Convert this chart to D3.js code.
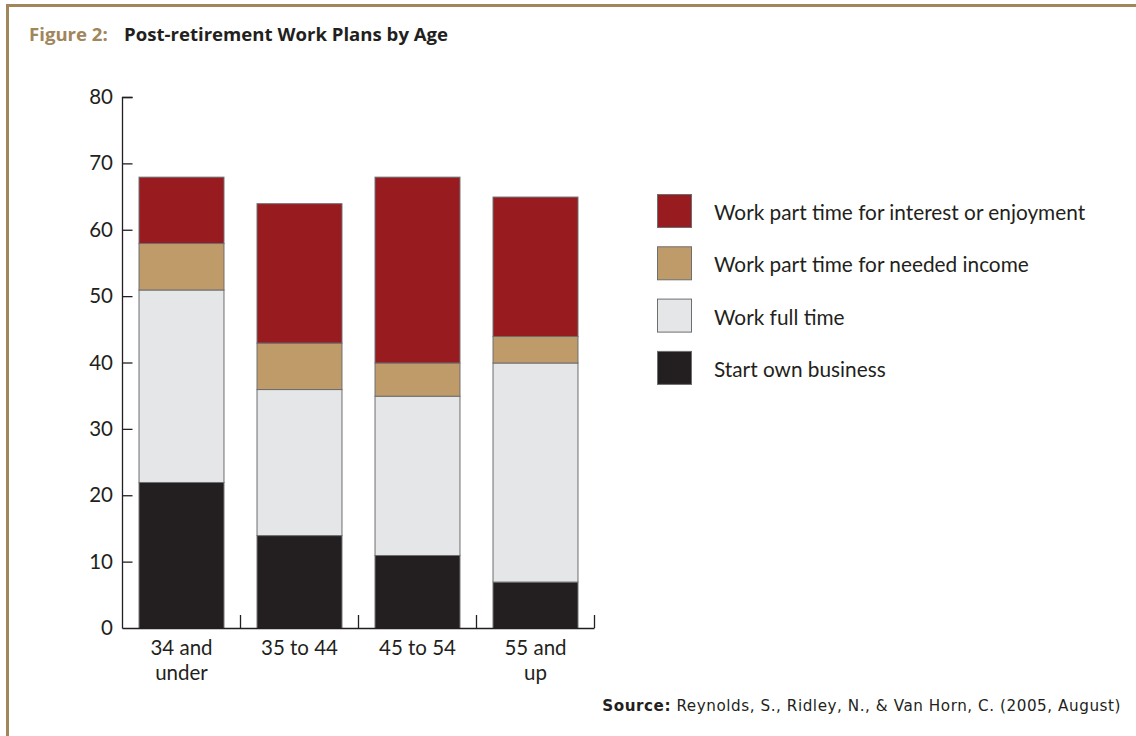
<!DOCTYPE html>
<html><head><meta charset="utf-8">
<script src="https://cdn.jsdelivr.net/npm/d3@7/dist/d3.min.js"></script>
<style>body{margin:0;background:#fff;} svg{display:block;}</style>
</head><body>
<svg id="c" width="1136" height="736"></svg>
<script>
const categories = [["34 and","under"],["35 to 44"],["45 to 54"],["55 and","up"]];
const seriesNames = ["Start own business","Work full time","Work part time for needed income","Work part time for interest or enjoyment"];
const startOwnBusiness = [22,14,11,7];
const workFullTime = [29,22,24,33];
const partTimeIncome = [7,7,5,4];
const partTimeInterest = [10,21,28,21];
const yTicks = [0,10,20,30,40,50,60,70,80];
const colors = ["#231f20","#e5e6e8","#c09b6a","#981b20"];
const seriesValues = [startOwnBusiness, workFullTime, partTimeIncome, partTimeInterest];

const svg = d3.select("#c");
const font = "Lato, 'Open Sans', sans-serif";

// frame
svg.append("rect").attr("x",0).attr("y",0).attr("width",1136).attr("height",736).attr("fill","#fff");
svg.append("line").attr("x1",6.5).attr("x2",1136).attr("y1",5.5).attr("y2",5.5).attr("stroke","#a0865a").attr("stroke-width",3);
svg.append("line").attr("x1",7.5).attr("x2",7.5).attr("y1",4).attr("y2",736).attr("stroke","#a0865a").attr("stroke-width",3);

// title
const t = svg.append("text").attr("x",29).attr("y",41).attr("font-family","'Open Sans', sans-serif").attr("font-weight","bold").attr("font-size",18.6);
t.append("tspan").attr("fill","#a0865a").text("Figure 2:");
t.append("tspan").attr("fill","#231f20").attr("x",124).text("Post-retirement Work Plans by Age");

const x = d3.scaleBand().domain(d3.range(categories.length)).range([122,594]).paddingInner(0.28).paddingOuter(0.14);
const y = d3.scaleLinear().domain([0,80]).range([628,97]);

const rows = d3.range(categories.length).map(i => {
  const o = {i};
  seriesNames.forEach((s,k) => o[s] = seriesValues[k][i]);
  return o;
});
const stack = d3.stack().keys(seriesNames)(rows);

const g = svg.append("g");
stack.forEach((layer,k) => {
  g.selectAll(null).data(layer).enter().append("rect")
    .attr("x", d => x(d.data.i)+0.5)
    .attr("width", x.bandwidth())
    .attr("y", d => y(d[1])+0.5)
    .attr("height", d => y(d[0]) - y(d[1]))
    .attr("fill", colors[k])
    .attr("stroke", "#6d6e70").attr("stroke-width",1);
});

// y axis
const ya = svg.append("g").attr("transform","translate(122.5,0)")
  .call(d3.axisRight(y).tickValues(yTicks).tickSize(10).tickFormat(""));
ya.select(".domain").attr("d", "M10," + (y(80)+0.5) + "H0V" + (y(0)+0.5));
ya.selectAll(".tick line").attr("stroke","#231f20").attr("stroke-width",1.3);
ya.select(".domain").attr("stroke","#231f20").attr("stroke-width",1.3);
ya.selectAll(".tick").filter(d=>d===0).select("line").remove();
svg.append("g").selectAll("text").data(yTicks).enter().append("text")
  .attr("x",113).attr("y",d=>y(d)+7).attr("text-anchor","end")
  .attr("font-family",font).attr("font-size",20.5).attr("fill","#231f20").text(d=>d);

// x axis
const xa = svg.append("g");
const x0 = x.range()[0], x1 = x.range()[1];
xa.append("path").attr("d", `M${x0+0.5},${y(0)+0.5}H${x1+0.5}`).attr("stroke","#231f20").attr("stroke-width",1.3).attr("fill","none");
const tickPos = d3.range(1,categories.length+1).map(i => i < categories.length ? (x(i-1)+x.bandwidth() + x(i))/2 : x1);
xa.selectAll("line").data(tickPos).enter().append("line")
  .attr("x1",d=>d+0.5).attr("x2",d=>d+0.5).attr("y1",y(0)).attr("y2",y(0)-13)
  .attr("stroke","#231f20").attr("stroke-width",1.3);

const xl = svg.append("g").selectAll("text").data(categories).enter().append("text")
  .attr("x",(d,i)=>x(i)+x.bandwidth()/2+0.5).attr("y",655)
  .attr("text-anchor","middle").attr("font-family",font).attr("font-size",20.5).attr("fill","#231f20");
xl.each(function(d){
  const s = d3.select(this);
  d.forEach((line,j)=> s.append("tspan").attr("x",s.attr("x")).attr("dy", j===0?0:25).text(line));
});

// legend
const legendOrder = [3,2,1,0];
const lg = svg.append("g");
legendOrder.forEach((k,j) => {
  const yy = 194 + j*52.3;
  lg.append("rect").attr("x",657.5).attr("y",yy+0.5).attr("width",34).attr("height",33)
    .attr("fill",colors[k]).attr("stroke","#6d6e70").attr("stroke-width",1);
  lg.append("text").attr("x",714).attr("y",yy+26).attr("font-family",font).attr("font-size",20.8)
    .attr("fill","#231f20").text(seriesNames[k]);
});

// source
const src = svg.append("text").attr("x",1121).attr("y",711).attr("text-anchor","end")
  .attr("font-family","'DejaVu Sans', sans-serif").attr("font-size",15.2).attr("letter-spacing",0.55).attr("fill","#231f20");
src.append("tspan").attr("font-weight","bold").text("Source:");
src.append("tspan").text(" Reynolds, S., Ridley, N., & Van Horn, C. (2005, August)");
</script>
</body></html>
